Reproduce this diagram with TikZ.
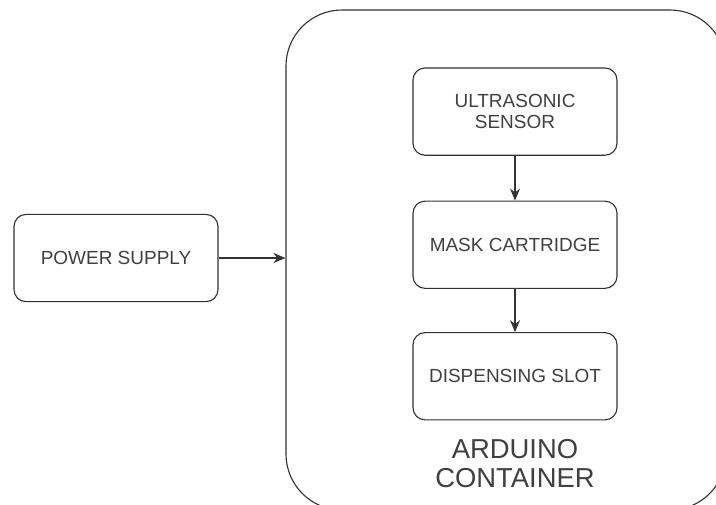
\documentclass[tikz,border=0pt]{standalone}
\usepackage{fontspec}
\setmainfont{Liberation Sans}
\usepackage{tikz}
\usetikzlibrary{arrows.meta, positioning}
\definecolor{linegrey}{rgb}{0.2, 0.2, 0.2}
\definecolor{textgrey}{rgb}{0.25, 0.25, 0.25}

\begin{document}
\begin{tikzpicture}[
texts/.style = {text=textgrey, font=\fontsize{13.5}{15}\selectfont},
blockline/.style = {draw=linegrey, line width=0.8pt},
block/.style = {texts, blockline, rectangle, rounded corners=0.3cm, align=center, minimum width=5.1cm, minimum height=2.18cm},
holder/.style = {blockline, rectangle, rounded corners=1.4cm, minimum width=11cm, minimum height=12.5cm},
flow/.style = {blockline, -{Stealth[length=0.3cm, width=0.25cm]}}
]
\useasboundingbox (0,0) rectangle (17.9,-12.6);
\clip (0,0) rectangle (17.9,-12.6);

\node[holder] (container) at (12.65,-6.5) {};
\node[block] (power) at (2.9,-6.45) {POWER SUPPLY};
\node[block] (sensor) at (12.875,-2.79) {ULTRASONIC\\SENSOR};
\node[block, below = 1.12cm of sensor] (cartridge) {MASK CARTRIDGE};
\node[block, below = 1.08cm of cartridge] (slot) {DISPENSING SLOT};
\node[texts, align=center, font=\fontsize{19.5}{20.5}\selectfont, below = 0.36cm of slot] (title) {ARDUINO\\CONTAINER};

\draw[flow] (power.east) -- (power.east -| container.west);
\draw[flow] (sensor) -- (cartridge);
\draw[flow] (cartridge) -- (slot);
\end{tikzpicture}
\end{document}
